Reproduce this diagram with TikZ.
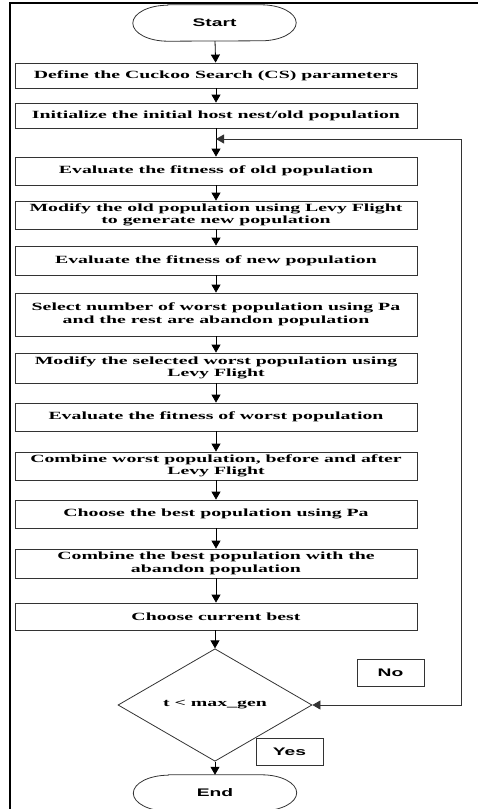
\documentclass[tikz,border=0pt]{standalone}
\usepackage{fontspec}
\newfontfamily\boxfont{Liberation Serif}[FakeStretch=1.8]
\newfontfamily\labfont{Liberation Sans}[FakeStretch=1.75]
\usetikzlibrary{shapes.geometric, arrows.meta, positioning}

\begin{document}
\begin{tikzpicture}[x=1pt, y=-1pt,
  stepbox/.style={draw=black!80, line width=0.8pt, minimum width=402pt, inner sep=0pt,
    align=center, font=\boxfont\bfseries\fontsize{11}{12.5}\selectfont},
  terminal/.style={minimum width=163pt, minimum height=36pt, inner sep=0pt,
    font=\labfont\bfseries\fontsize{11}{13}\selectfont},
  tag/.style={draw=black!80, line width=0.8pt, minimum width=67pt, minimum height=27pt,
    inner sep=0pt, font=\labfont\bfseries\fontsize{11}{13}\selectfont},
  flow/.style={-{Triangle[width=9pt,length=8pt]}, line width=0.8pt}]
\useasboundingbox (0,0) rectangle (477,809);

% Frame
\draw[line width=2pt] (10,815) -- (10,3) -- (485,3);

% Start and the steps
\node[terminal] (start) at (214.5,23) {Start};
\node[stepbox, minimum height=25pt] (define) at (216,75.5) {Define the Cuckoo Search (CS) parameters};
\node[stepbox, minimum height=25pt] (init) at (216,115.5) {Initialize the initial host nest/old population};
\node[stepbox, minimum height=28pt] (evalold) at (216,171) {Evaluate the fitness of old population};
\node[stepbox, minimum height=28pt] (modold) at (216,215) {Modify the old population using Levy Flight\\to generate new population};
\node[stepbox, minimum height=29pt] (evalnew) at (216,260.5) {Evaluate the fitness of new population};
\node[stepbox, minimum height=43pt] (select) at (216,314.5) {Select number of worst population using Pa\\and the rest are abandon population};
\node[stepbox, minimum height=30pt] (modsel) at (216,368) {Modify the selected worst population using\\Levy Flight};
\node[stepbox, minimum height=28pt] (evalworst) at (216,417) {Evaluate the fitness of worst population};
\node[stepbox, minimum height=28pt] (combworst) at (216,466) {Combine worst population, before and after\\Levy Flight};
\node[stepbox, minimum height=28pt] (bestpa) at (216,514) {Choose the best population using Pa};
\node[stepbox, minimum height=29pt] (combbest) at (216,563.5) {Combine the best population with the\\abandon population};
\node[stepbox, minimum height=27pt] (curbest) at (216,616.5) {Choose current best};

% Decision and end
\node[diamond, draw=black!80, line width=0.8pt, minimum width=194pt, minimum height=84pt, inner sep=0pt,
  font=\boxfont\bfseries\fontsize{11}{12.5}\selectfont] (check) at (215,705) {t < max\_gen};
\node[terminal] (stop) at (215,793) {End};
\node[tag] (no) at (390.5,672.5) {No};
\node[tag] (yes) at (289.5,752) {Yes};

% Oval outlines
\foreach \t in {start,stop} {
  \draw[line width=0.8pt, black!80] ([xshift=35pt]\t.north west) -- ([xshift=-35pt]\t.north east)
    arc[start angle=90, end angle=-90, x radius=35pt, y radius=18pt]
    -- ([xshift=35pt]\t.south west)
    arc[start angle=270, end angle=90, x radius=35pt, y radius=18pt] -- cycle;
}

% Arrows down the column
\coordinate (loop) at (216,139);
\draw[flow] (start) -- (define);
\draw[flow] (define) -- (init);
\draw[flow] (init) -- (evalold);
\draw[flow] (evalold) -- (modold);
\draw[flow] (modold) -- (evalnew);
\draw[flow] (evalnew) -- (select);
\draw[flow] (select) -- (modsel);
\draw[flow] (modsel) -- (evalworst);
\draw[flow] (evalworst) -- (combworst);
\draw[flow] (combworst) -- (bestpa);
\draw[flow] (bestpa) -- (combbest);
\draw[flow] (combbest) -- (curbest);
\draw[flow] (curbest.south -| check) -- (check);
\draw[flow] (check) -- (stop.north -| check);

% Loop back
\draw[{Triangle[width=9pt,length=8pt]}-{Triangle[width=9pt,length=8pt]}, line width=0.8pt, black!80]
  (check.east) -- (461,705) -- (461,139) -- (loop);
\end{tikzpicture}
\end{document}
